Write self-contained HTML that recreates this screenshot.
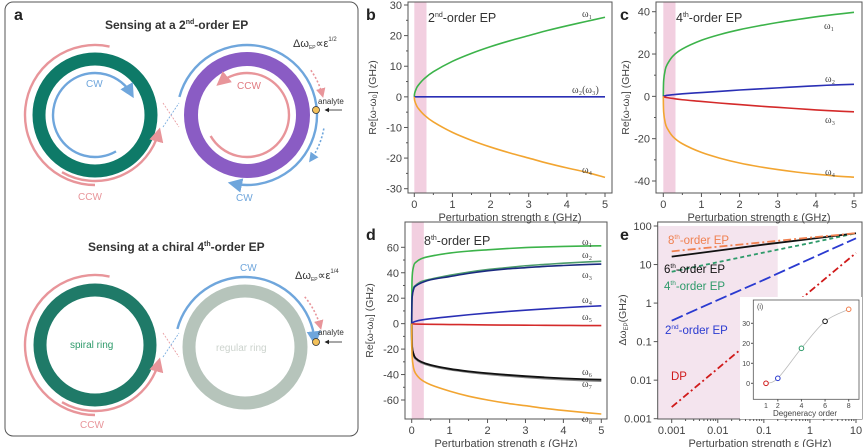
<!DOCTYPE html>
<html><head><meta charset="utf-8"><style>
html,body{margin:0;padding:0;background:#fff}
svg{display:block;font-family:"Liberation Sans",sans-serif}
</style></head><body>
<svg id="fig" width="864" height="447" viewBox="0 0 864 447">
<defs>
<marker id="ab" markerWidth="6" markerHeight="6" refX="4" refY="3" orient="auto"><path d="M0,0 L6,3 L0,6z" fill="#6fa6dc"/></marker>
<marker id="ap" markerWidth="6" markerHeight="6" refX="4" refY="3" orient="auto"><path d="M0,0 L6,3 L0,6z" fill="#e8959a"/></marker>
<marker id="ak" markerWidth="6" markerHeight="6" refX="4" refY="3" orient="auto"><path d="M0,0 L6,3 L0,6z" fill="#222"/></marker>
</defs>
<g id="panelA">
<rect x="5" y="2" width="353" height="434" rx="8" fill="#fff" stroke="#555" stroke-width="1"/>
<text x="14" y="20" font-size="16" font-weight="bold" fill="#222">a</text>
<text x="105" y="29" font-size="12" font-weight="bold" fill="#333">Sensing at a 2<tspan font-size="7" dy="-5">nd</tspan><tspan dy="5">-order EP</tspan></text>
<text x="88" y="251" font-size="12" font-weight="bold" fill="#333">Sensing at a chiral 4<tspan font-size="7" dy="-5">th</tspan><tspan dy="5">-order EP</tspan></text>
<circle cx="95" cy="115" r="56" fill="none" stroke="#0e7a68" stroke-width="13"/>
<circle cx="247" cy="115" r="56" fill="none" stroke="#8a5cc4" stroke-width="14"/>
<circle cx="95" cy="345" r="55" fill="none" stroke="#1f7a68" stroke-width="13"/>
<circle cx="245" cy="347" r="56" fill="none" stroke="#b6c4bb" stroke-width="13"/>
<g id="arcs"></g>
<text x="86" y="87" font-size="10" fill="#6fa6dc">CW</text>
<text x="237" y="89" font-size="10" fill="#e07a80">CCW</text>
<text x="78" y="200" font-size="10" fill="#e8959a">CCW</text>
<text x="236" y="201" font-size="10" fill="#6fa6dc">CW</text>
<text x="240" y="271" font-size="10" fill="#6fa6dc">CW</text>
<text x="80" y="428" font-size="10" fill="#e8959a">CCW</text>
<text x="70" y="348" font-size="10" fill="#2e9a6a">spiral ring</text>
<text x="216" y="351" font-size="10" fill="#ccd3cd">regular ring</text>
<text x="293" y="47" font-size="11" fill="#333">Δω<tspan font-size="5" dy="2">EP</tspan><tspan dy="-2">∝ε</tspan><tspan font-size="6" dy="-6">1/2</tspan></text>
<text x="295" y="279" font-size="11" fill="#333">Δω<tspan font-size="5" dy="2">EP</tspan><tspan dy="-2">∝ε</tspan><tspan font-size="6" dy="-6">1/4</tspan></text>
<text x="318" y="104" font-size="8" fill="#333">analyte</text>
<text x="318" y="335" font-size="8" fill="#333">analyte</text>
<circle cx="316" cy="110" r="3.5" fill="#f3c15a" stroke="#333" stroke-width="0.8"/>
<circle cx="316" cy="342" r="3.5" fill="#f3c15a" stroke="#333" stroke-width="0.8"/>
<line x1="342" y1="110" x2="326" y2="110" stroke="#222" stroke-width="0.8" marker-end="url(#ak)"/>
<line x1="342" y1="342" x2="326" y2="342" stroke="#222" stroke-width="0.8" marker-end="url(#ak)"/>
</g>
<g id="charts"></g>
</svg>
<script>
// ---------- data ----------
const xLin = [0,0.01,0.05,0.1,0.25,0.5,1,1.5,2,2.5,3,3.5,4,4.5,5];
const bW1 = [0,1.2,2.6,3.7,5.8,8.2,11.6,14.2,16.4,18.3,20,21.7,23.2,24.6,26];
const bW23 = [0,0,0,0,0,0,0,0,0,0,0,0,0,0,0];
const bW4 = [0,-1.2,-2.6,-3.7,-5.8,-8.2,-11.6,-14.2,-16.4,-18.3,-20,-21.7,-23.2,-24.6,-26.3];
const cW1 = [0,7.5,12.5,15,19,22.4,26.5,29.3,31.5,33.3,34.9,36.3,37.6,38.7,39.7];
const cW2 = [0,0.1,0.3,0.5,0.8,1.2,1.8,2.4,3,3.5,4,4.5,5,5.4,5.7];
const cW3 = [0,-0.2,-0.4,-0.6,-1,-1.6,-2.4,-3.2,-3.9,-4.6,-5.2,-5.8,-6.4,-6.9,-7.3];
const cW4 = [0,-7.5,-12.5,-15,-19,-22.4,-26.5,-29.3,-31.5,-33.2,-34.6,-35.8,-36.8,-37.6,-38.2];
const dW1 = [0,35,45,48,51,53,55.5,57,58,59,59.8,60.3,60.7,61,61.2];
const dW2 = [0,20,28,30,33,35,38,40.5,42.5,44,45.5,46.5,47.5,48.3,49];
const dW3 = [0,20,27,29.5,32,34.5,37,39.5,41.5,43,44,45,45.7,46.3,46.8];
const dW4 = [0,0.5,1.2,1.8,2.8,3.9,5.5,7,8.3,9.5,10.6,11.6,12.5,13.3,14];
const dW5 = [0,-0.1,-0.2,-0.3,-0.4,-0.5,-0.7,-0.8,-1,-1.1,-1.2,-1.3,-1.4,-1.5,-1.5];
const dW6 = [0,-18,-24,-27,-30,-32.5,-35.5,-37.5,-39,-40.2,-41.3,-42.2,-43,-43.6,-44];
const dW7 = [0,-18.5,-24.5,-27.5,-30.5,-33,-36,-38,-39.6,-40.9,-42,-43,-43.8,-44.5,-45];
const dW8 = [0,-25,-35,-39,-44,-48,-53,-57,-60,-62.5,-64.5,-66.5,-68.2,-69.7,-71];
const eX = [0.001,0.01,0.1,1,10];
const e8 = [22,29,38,50,65];
const e6 = [16,23,33,46,65];
const e4 = [6.5,11.5,20.5,36,65];
const e2 = [0.35,1.2,4.0,14,48];
const eDP = [0.002,0.02,0.2,2,20];
const insOrder = [1,2,4,6,8];
const insVal = [0,2.5,17.5,31,37];
const linTicksX = ['0','1','2','3','4','5'];
const logTicksX = ['0.001','0.01','0.1','1','10'];
const logTicksY = ['0.001','0.01','0.1','1','10','100'];

const NS='http://www.w3.org/2000/svg';
const root=document.getElementById('charts');
function el(tag,attrs,parent){const e=document.createElementNS(NS,tag);for(const k in attrs)e.setAttribute(k,attrs[k]);(parent||root).appendChild(e);return e;}
function lin(d0,d1,r0,r1){return v=>r0+(v-d0)/(d1-d0)*(r1-r0);}
function logs(d0,d1,r0,r1){return v=>r0+(Math.log10(v)-Math.log10(d0))/(Math.log10(d1)-Math.log10(d0))*(r1-r0);}
function smooth(pts){let d='M'+pts[0][0].toFixed(2)+','+pts[0][1].toFixed(2);
 for(let i=0;i<pts.length-1;i++){const p0=pts[i-1]||pts[i],p1=pts[i],p2=pts[i+1],p3=pts[i+2]||p2;
  const c1=[p1[0]+(p2[0]-p0[0])/6,p1[1]+(p2[1]-p0[1])/6],c2=[p2[0]-(p3[0]-p1[0])/6,p2[1]-(p3[1]-p1[1])/6];
  d+=' C'+c1[0].toFixed(2)+','+c1[1].toFixed(2)+' '+c2[0].toFixed(2)+','+c2[1].toFixed(2)+' '+p2[0].toFixed(2)+','+p2[1].toFixed(2);}
 return d;}
function txt(x,y,s,attrs,parent){const t=el('text',Object.assign({x:x,y:y,'font-size':11,fill:'#444'},attrs||{}),parent);t.textContent=s;return t;}

function linPanel(cfg){
 const g=el('g',{});
 
 
 const X=lin(0,5,cfg.x0,cfg.x5), Y=lin(cfg.tmin,cfg.tmax,cfg.yb,cfg.yt);
 const sh=el('rect',{x:X(0),y:cfg.top,width:X(0.32)-X(0),height:cfg.bottom-cfg.top,fill:'#f2cfe0'},g);
 
 
 const fr=el('rect',{x:cfg.left,y:cfg.top,width:cfg.right-cfg.left,height:cfg.bottom-cfg.top,fill:'none',stroke:'#555','stroke-width':1},g);
 
 
 for(let i=0;i<=10;i++){const v=i*0.5,x=X(v);el('line',{x1:x,x2:x,y1:cfg.bottom,y2:cfg.bottom+(i%2?2:4),stroke:'#555'},g);}
 linTicksX.forEach(s=>{const t=txt(X(+s),cfg.bottom+15,s,{'text-anchor':'middle'},g);
  
  });
 for(let v=cfg.tmin;v<=cfg.tmax+1e-6;v+=cfg.step/2){const y=Y(v),maj=Math.abs((v-cfg.tmin)%cfg.step)<1e-6;
  el('line',{x1:cfg.left,x2:cfg.left-(maj?4:2),y1:y,y2:y,stroke:'#555'},g);
  if(maj){const t=txt(cfg.left-6,y+4,String(v),{'text-anchor':'end'},g);
   
   }}
 const xt=txt((cfg.left+cfg.right)/2,cfg.bottom+28,'Perturbation strength ε (GHz)',{'text-anchor':'middle'},g);
 
 
 const cy=(cfg.top+cfg.bottom)/2;
 const yt=txt(cfg.ylx,cy,'Re[ω-ω₀] (GHz)',{'text-anchor':'middle',transform:'rotate(-90 '+cfg.ylx+' '+cy+')','font-size':10.5},g);
 
 
 cfg.series.forEach(s=>{
  const p=el('path',{d:smooth(xLin.map((x,i)=>[X(x),Y(s.v[i])])),fill:'none',stroke:s.c,'stroke-width':s.w||1.6},g);
  
  
  if(s.lab){const t=txt(s.lab[0],s.lab[1],s.lab[2],{'font-size':10,fill:'#444','font-family':'Liberation Serif'},g);
   
   }
 });
 const pl=txt(cfg.letter[0],cfg.letter[1],cfg.letter[2],{'font-size':16,'font-weight':'bold',fill:'#222'},g);
 
 
 const ti=el('text',{x:cfg.title[0],y:cfg.title[1],'font-size':12.5,fill:'#333'},g);
 ti.innerHTML=cfg.title[2]+'<tspan font-size="7" dy="-5">'+cfg.title[3]+'</tspan><tspan dy="5">-order EP</tspan>';
 
 
}

linPanel({name:'panel-b-chart',left:408,right:612,top:2,bottom:193,x0:414.3,x5:605,tmin:-30,tmax:30,step:10,yb:188.7,yt:5,ylx:376,
 letter:[366,20,'b'],title:[428,22,'2','nd'],
 series:[{n:'w1',v:bW1,c:'#3cb34a',lab:[582,17,'ω₁']},{n:'w2w3',v:bW23,c:'#2a2fb5',lab:[572,93,'ω₂(ω₃)']},{n:'w4',v:bW4,c:'#f2a531',lab:[582,173,'ω₄']}]});
linPanel({name:'panel-c-chart',left:656,right:862,top:2,bottom:193,x0:663.3,x5:854,tmin:-40,tmax:40,step:20,yb:181,yt:11.7,ylx:629,
 letter:[620,20,'c'],title:[676,22,'4','th'],
 series:[{n:'w1',v:cW1,c:'#3cb34a',lab:[824,29,'ω₁']},{n:'w2',v:cW2,c:'#2a2fb5',lab:[825,82,'ω₂']},{n:'w3',v:cW3,c:'#d42a2a',lab:[825,123,'ω₃']},{n:'w4',v:cW4,c:'#f2a531',lab:[825,175,'ω₄']}]});
linPanel({name:'panel-d-chart',left:405,right:607,top:222,bottom:419,x0:411.7,x5:601.3,tmin:-60,tmax:60,step:20,yb:400,yt:247.3,ylx:373,
 letter:[366,240,'d'],title:[424,245,'8','th'],
 series:[{n:'w1',v:dW1,c:'#3cb34a',lab:[582,245,'ω₁']},{n:'w2',v:dW2,c:'#4a9a6a',lab:[582,258,'ω₂']},{n:'w3',v:dW3,c:'#1a2a80',lab:[582,278,'ω₃']},
 {n:'w4',v:dW4,c:'#2a2fb5',lab:[582,303,'ω₄']},{n:'w5',v:dW5,c:'#d42a2a',lab:[582,320,'ω₅']},{n:'w7',v:dW7,c:'#888',w:2.2,lab:[582,387,'ω₇']},
 {n:'w6',v:dW6,c:'#111',w:1.8,lab:[582,375,'ω₆']},{n:'w8',v:dW8,c:'#f2a531',lab:[582,422,'ω₈']}]});
</script>
<script>
// panel e
(function(){
 const g=el('g',{});
 
 
 const L=657.7,R=862,T=222,B=419;
 const X=logs(0.001,10,671.7,856), Y=logs(0.001,100,418.7,226);
 const sh=el('rect',{x:L,y:T+4,width:X(0.2)-L,height:B-T-4,fill:'#f4e4ee'},g);
 
 
 const fr=el('rect',{x:L,y:T,width:R-L,height:B-T,fill:'none',stroke:'#555'},g);
 
 
 logTicksX.forEach(s=>{const v=+s;el('line',{x1:X(v),x2:X(v),y1:B,y2:B+4,stroke:'#555'},g);
  for(let k=2;k<10&&v<10;k++){const x=X(v*k);el('line',{x1:x,x2:x,y1:B,y2:B+2,stroke:'#555'},g);}
  const t=txt(X(v),B+15,s,{'text-anchor':'middle'},g);
  
  });
 logTicksY.forEach(s=>{const v=+s;el('line',{x1:L,x2:L-4,y1:Y(v),y2:Y(v),stroke:'#555'},g);
  const t=txt(L-6,Y(v)+4,s,{'text-anchor':'end'},g);
  
  });
 const xt=txt(760,B+28,'Perturbation strength ε (GHz)',{'text-anchor':'middle'},g);
 
 
 const yt=el('text',{x:626,y:320,'font-size':10.5,fill:'#444','text-anchor':'middle',transform:'rotate(-90 626 320)'},g);
 yt.innerHTML='Δω<tspan font-size="6" dy="2">EP</tspan><tspan dy="-2">(GHz)</tspan>';
 
 
 const ser=[{n:'dp',v:eDP,c:'#d01a1a',da:'7,3,2,3'},{n:'ep2',v:e2,c:'#2a3ad0',da:'12,4'},{n:'ep4',v:e4,c:'#2e9a6a',da:'4,3'},{n:'ep6',v:e6,c:'#111',da:''},{n:'ep8',v:e8,c:'#f08050',da:'8,3,2,3'}];
 ser.forEach(s=>{const p=el('path',{d:'M'+eX.map((x,i)=>X(x).toFixed(2)+','+Y(s.v[i]).toFixed(2)).join(' L'),fill:'none',stroke:s.c,'stroke-width':1.8,'stroke-dasharray':s.da},g);
  
  });
 const labs=[['8','th',668,244,'#f08050'],['6','th',664,273,'#111'],['4','th',664,290,'#2e9a6a'],['2','nd',665,334,'#2a3ad0']];
 labs.forEach(l=>{const t=el('text',{x:l[2],y:l[3],'font-size':11.5,fill:l[4]},g);
  t.innerHTML=l[0]+'<tspan font-size="6.5" dy="-5">'+l[1]+'</tspan><tspan dy="5">-order EP</tspan>';
  
  });
 const dp=txt(671,380,'DP',{'font-size':11.5,fill:'#d01a1a'},g);
 
 
 const pl=txt(620,240,'e',{'font-size':16,'font-weight':'bold',fill:'#222'},g);
 
 
 const ig=el('g',{},g);
 
 
 el('rect',{x:740,y:297,width:122,height:122,fill:'#fff'},ig);
 const IX=lin(1,8,766,848.7), IY=lin(0,30,383.3,323.3);
 el('rect',{x:753.3,y:300,width:105.7,height:99.3,fill:'none',stroke:'#555','stroke-width':0.8},ig);
 [2,4,6,8].forEach(v=>el('line',{x1:IX(v),x2:IX(v),y1:399.3,y2:401.5,stroke:'#555'},ig));
 [1,2,4,6,8].forEach(v=>txt(IX(v),408,String(v),{'font-size':7,'text-anchor':'middle'},ig));
 [0,10,20,30].forEach(v=>{el('line',{x1:753.3,x2:751,y1:IY(v),y2:IY(v),stroke:'#555'},ig);
  txt(750,IY(v)+2.5,String(v),{'font-size':7,'text-anchor':'end'},ig);});
 txt(805,416,'Degeneracy order',{'font-size':8,'text-anchor':'middle'},ig);
 txt(757,309,'(i)',{'font-size':7},ig);
 const pts=insOrder.map((o,i)=>[IX(o),IY(insVal[i])]);
 const c=el('path',{d:smooth(pts),fill:'none',stroke:'#bbb','stroke-width':0.8},ig);
 
 
 const cols=['#d01a1a','#2a3ad0','#2e9a6a','#111','#f08050'];
 pts.forEach((p,i)=>{const m=el('circle',{cx:p[0],cy:p[1],r:2.3,fill:'#fff',stroke:cols[i],'stroke-width':1},ig);
  
  });
})();
// panel a arcs
(function(){
 const g=document.getElementById('arcs');
 function arc(cx,cy,r,a0,a1,col,mk,dash,w){const rad=a=>a*Math.PI/180;
  const x0=cx+r*Math.cos(rad(a0)),y0=cy+r*Math.sin(rad(a0)),x1=cx+r*Math.cos(rad(a1)),y1=cy+r*Math.sin(rad(a1));
  const large=Math.abs(a1-a0)>180?1:0,sw=a1>a0?1:0;
  const p=el('path',{d:`M${x0},${y0} A${r},${r} 0 ${large} ${sw} ${x1},${y1}`,fill:'none',stroke:col,'stroke-width':w||2.4},g);
  if(mk)p.setAttribute('marker-end',mk);if(dash)p.setAttribute('stroke-dasharray',dash);return p;}
 const P='#e8959a',Bl='#6fa6dc';
 arc(95,115,70,-78,-270,P,null,null);
 arc(95,115,66,120,15,P,'url(#ap)');
 arc(95,115,42,60,330,Bl,'url(#ab)');
 arc(247,115,70,195,462,Bl,'url(#ab)');
 arc(247,115,42,150,-130,P,'url(#ap)');
 arc(247,115,78,-35,-15,P,'url(#ap)','2,2',1.6);
 arc(247,115,78,10,35,Bl,'url(#ab)','2,2',1.6);
 arc(95,345,70,-78,-270,P,null,null);
 arc(95,345,66,120,15,P,'url(#ap)');
 arc(245,347,70,195,355,Bl,'url(#ab)');
 arc(245,347,78,-40,-15,P,'url(#ap)','2,2',1.6);
 [115,345].forEach(y=>{
  el('line',{x1:163,y1:y-12,x2:179,y2:y+12,stroke:P,'stroke-width':0.8,'stroke-dasharray':'2,1.5'},g);
  el('line',{x1:163,y1:y+12,x2:179,y2:y-12,stroke:Bl,'stroke-width':0.8,'stroke-dasharray':'2,1.5'},g);});
})();
</script>
</body></html>
